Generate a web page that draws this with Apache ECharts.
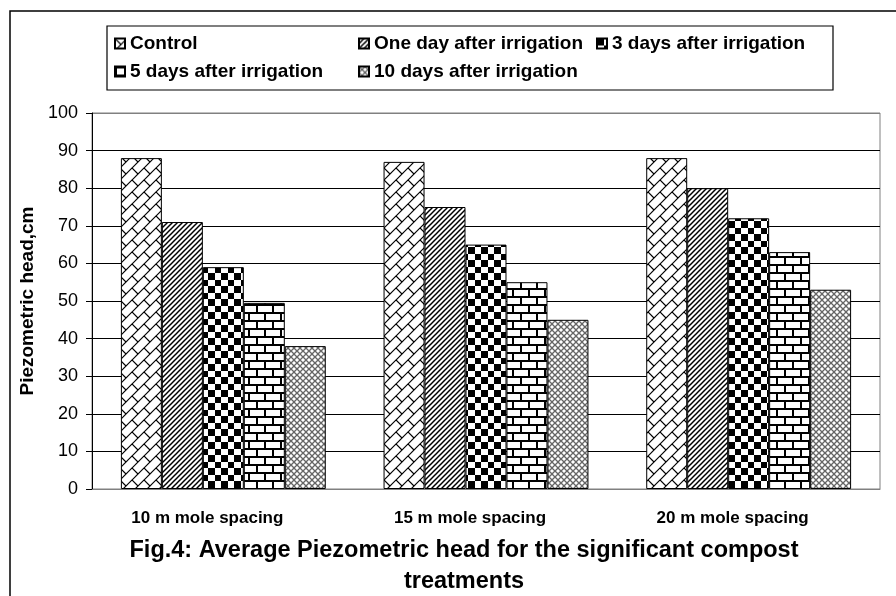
<!DOCTYPE html>
<html><head><meta charset="utf-8">
<script src="https://cdn.jsdelivr.net/npm/echarts@6/dist/echarts.min.js"></script>
<style>html,body{margin:0;padding:0;background:#fff}#c{width:896px;height:596px}</style>
</head><body><div id="c"></div>
<script>
const categories = ['10 m mole spacing', '15 m mole spacing', '20 m mole spacing'];
const seriesNames = ['Control', 'One day after irrigation', '3 days after irrigation', '5 days after irrigation', '10 days after irrigation'];
const control = [88, 87, 88];
const oneDay = [71, 75, 80];
const threeDays = [59, 65, 72];
const fiveDays = [49.5, 55, 63];
const tenDays = [38, 45, 53];
const yMin = 0, yMax = 100, yInterval = 10;
const titleText = 'Fig.4: Average Piezometric head for the significant compost\ntreatments';
const yName = 'Piezometric head,cm';

const FONT = '"Liberation Sans", Arial, sans-serif';

function tile(w, h, draw) {
  const c = document.createElement('canvas');
  c.width = w; c.height = h;
  const g = c.getContext('2d');
  g.fillStyle = '#fff'; g.fillRect(0, 0, w, h);
  draw(g, w, h);
  return { image: c, repeat: 'repeat' };
}
function ln(g, x1, y1, x2, y2) { g.beginPath(); g.moveTo(x1, y1); g.lineTo(x2, y2); g.stroke(); }

const patterns = [
  // diagonal brick
  tile(12, 12, g => { g.strokeStyle = '#000'; g.lineWidth = 1.2;
    ln(g, -2, 14, 14, -2); ln(g, -2, 2, 2, -2); ln(g, 10, 14, 14, 10); ln(g, 0, 0, 6, 6); }),
  // dark upward diagonal
  tile(5, 5, g => { g.strokeStyle = '#000'; g.lineWidth = 1.5;
    ln(g, -1, 6, 6, -1); ln(g, -1, 1, 1, -1); ln(g, 4, 6, 6, 4); }),
  // large checkerboard
  tile(13, 13, g => { g.fillStyle = '#000'; g.fillRect(0, 0, 7, 7); g.fillRect(7, 7, 6, 6); }),
  // horizontal brick
  tile(16, 16, g => { g.fillStyle = '#000';
    g.fillRect(0, 0, 16, 2); g.fillRect(0, 8, 16, 2); g.fillRect(0, 0, 2, 8); g.fillRect(8, 8, 2, 8); }),
  // dotted diamond
  tile(6, 6, g => { g.strokeStyle = '#666'; g.lineWidth = 1.3;
    ln(g, -1, -1, 7, 7); ln(g, -1, 7, 7, -1); })
];

const values = [control, oneDay, threeDays, fiveDays, tenDays];

const legendPos = [[114, 34], [358, 34], [596, 34], [114, 62], [358, 62]];

const splitColors = [];
for (let v = yMin; v <= yMax; v += yInterval) splitColors.push((v === yMin || v === yMax) ? '#808080' : '#000');

const chart = echarts.init(document.getElementById('c'), null, { renderer: 'canvas' });
chart.setOption({
  backgroundColor: '#fff',
  animation: false,
  textStyle: { fontFamily: FONT },
  graphic: [
    { type: 'rect', shape: { x: 10, y: 11, width: 900, height: 600 }, style: { fill: 'none', stroke: '#000', lineWidth: 1.5 }, silent: true },
    { type: 'rect', shape: { x: 107, y: 26, width: 726, height: 64 }, style: { fill: 'none', stroke: '#000', lineWidth: 1.2 }, silent: true },
    { type: 'text', x: 464, y: 535, style: { text: titleText, font: 'bold 23.5px ' + FONT, align: 'center', verticalAlign: 'top', lineHeight: 31, fill: '#000' }, silent: true }
  ],
  legend: seriesNames.map((n, i) => ({
    data: [n], left: legendPos[i][0], top: legendPos[i][1], padding: 0,
    itemWidth: 10, itemHeight: 10, icon: 'rect', selectedMode: false,
    textStyle: { fontFamily: FONT, fontWeight: 'bold', fontSize: 19, color: '#000' }
  })),
  grid: { left: 92, right: 16, top: 113, bottom: 107, show: true, borderColor: '#808080', borderWidth: 1, containLabel: false },
  xAxis: {
    type: 'category', data: categories,
    axisLine: { lineStyle: { color: '#808080', width: 1 } },
    axisTick: { show: false },
    axisLabel: { color: '#000', fontFamily: FONT, fontWeight: 'bold', fontSize: 17, margin: 21, padding: [0, 32, 0, 0] }
  },
  yAxis: {
    type: 'value', min: yMin, max: yMax, interval: yInterval,
    name: yName, nameLocation: 'middle', nameGap: 55,
    nameTextStyle: { color: '#000', fontFamily: FONT, fontWeight: 'bold', fontSize: 19 },
    axisLine: { show: true, lineStyle: { color: '#000', width: 1 } },
    axisTick: { show: true, inside: false, length: 6, lineStyle: { color: '#000' } },
    axisLabel: { color: '#000', fontFamily: FONT, fontSize: 18, margin: 14 },
    splitLine: { show: true, lineStyle: { color: splitColors, width: 1 } }
  },
  series: seriesNames.map((n, i) => ({
    name: n, type: 'bar', data: values[i],
    barGap: '0%', barCategoryGap: '22%',
    itemStyle: { color: patterns[i], borderColor: '#000', borderWidth: 1 },
    emphasis: { disabled: true }
  }))
});
</script></body></html>
